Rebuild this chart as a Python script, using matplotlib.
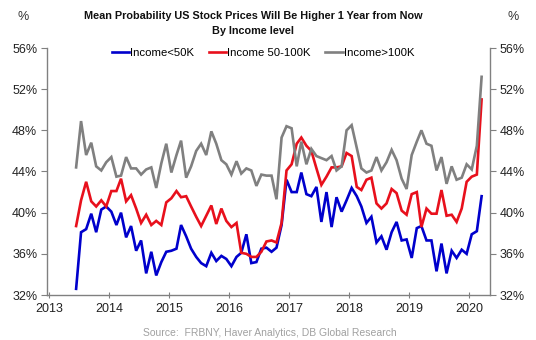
import matplotlib
matplotlib.use("Agg")
import matplotlib.pyplot as plt
import pandas as pd

plt.rcParams['font.family'] = ['Liberation Sans', 'DejaVu Sans']

start_month = "2013-06-01"
n_months = 82

income_lt50k = [32.6, 38.1, 38.4, 39.9, 38.1, 40.3, 40.6, 40.1, 38.8, 40.0,
                37.6, 38.7, 36.3, 37.3, 34.1, 36.2, 33.9, 35.2, 36.2, 36.3,
                36.5, 38.8, 37.7, 36.5, 35.7, 35.1, 34.8, 36.1, 35.3, 35.8,
                35.5, 34.8, 35.7, 36.1, 37.9, 35.1, 35.2, 36.5, 36.6, 36.2,
                36.6, 38.8, 43.2, 42.0, 42.0, 43.9, 41.8, 41.6, 42.5, 39.1,
                42.0, 38.6, 41.5, 40.1, 41.2, 42.4, 41.6, 40.6, 39.0, 39.6,
                37.1, 37.7, 36.4, 38.1, 39.1, 37.3, 37.4, 35.6, 38.5, 38.7,
                37.3, 37.3, 34.3, 37.0, 34.1, 36.3, 35.6, 36.4, 36.0, 37.9,
                38.2, 41.6]

income_50_100k = [38.7, 41.2, 43.0, 41.1, 40.6, 41.2, 40.6, 42.1, 42.1, 43.3,
                  41.1, 41.7, 40.4, 39.0, 39.8, 38.8, 39.2, 38.8, 41.0, 41.4,
                  42.1, 41.5, 41.6, 40.6, 39.6, 38.7, 39.7, 40.7, 38.9, 40.4,
                  39.2, 38.6, 39.0, 36.1, 36.0, 35.7, 35.7, 36.2, 37.2, 37.3,
                  37.1, 39.0, 44.1, 44.7, 46.7, 47.3, 46.5, 46.0, 44.3, 42.7,
                  43.5, 44.4, 44.4, 44.5, 45.8, 45.5, 42.5, 42.2, 43.2, 43.4,
                  40.9, 40.4, 40.9, 42.3, 41.9, 40.2, 39.8, 41.8, 42.0, 38.6,
                  40.4, 39.9, 39.9, 42.2, 39.7, 39.8, 39.1, 40.4, 43.0, 43.5,
                  43.7, 51.0]

income_gt100k = [44.4, 48.9, 45.6, 46.8, 44.5, 44.1, 44.9, 45.4, 43.5, 43.6,
                 45.4, 44.3, 44.3, 43.7, 44.2, 44.4, 42.4, 44.8, 46.7, 43.9,
                 45.6, 47.0, 43.4, 44.5, 46.0, 46.7, 45.6, 47.9, 46.7, 45.1,
                 44.7, 43.7, 45.0, 43.8, 44.3, 44.1, 42.6, 43.7, 43.6, 43.6,
                 41.3, 47.3, 48.4, 48.2, 44.5, 46.9, 44.7, 46.2, 45.5, 45.3,
                 45.1, 45.5, 44.1, 44.5, 48.0, 48.5, 46.3, 44.3, 43.9, 44.1,
                 45.4, 44.1, 44.9, 46.1, 45.1, 43.3, 42.3, 45.6, 46.9, 48.0,
                 46.7, 46.5, 44.1, 45.4, 42.8, 44.5, 43.2, 43.4, 44.7, 44.2,
                 46.5, 53.2]

series_labels = ["Income<50K", "Income 50-100K", "Income>100K"]
series_colors = ["#0000CC", "#E8101C", "#808080"]
year_ticks = list(range(2013, 2021))
y_ticks = [32, 36, 40, 44, 48, 52, 56]

dates = pd.date_range(start_month, periods=n_months, freq="MS") + pd.Timedelta(days=14)

fig = plt.figure(figsize=(5.36, 3.40), dpi=100)
ax = fig.add_axes([47/536, 1-295/340, (490-47)/536, (295-48)/340])

for vals, lab, col in zip([income_lt50k, income_50_100k, income_gt100k], series_labels, series_colors):
    ax.plot(dates, vals, color=col, lw=1.9, label=lab, solid_joinstyle='miter')

ax.set_xlim(pd.Timestamp("2012-12-20"), pd.Timestamp("2020-05-05"))
ax.set_ylim(32, 56)
ax.set_xticks([pd.Timestamp(f"{y}-01-01") for y in year_ticks])
ax.set_xticklabels([str(y) for y in year_ticks])
ax.set_yticks(y_ticks)
ax.set_yticklabels([f"{v}%" for v in y_ticks])

spine_col = "#808080"
for s in ["left", "right", "bottom"]:
    ax.spines[s].set_color(spine_col)
    ax.spines[s].set_linewidth(1.0)
ax.spines["top"].set_visible(False)

ax.tick_params(axis="y", which="both", left=True, right=True, labelleft=True, labelright=True,
               direction="out", length=4, color=spine_col, labelsize=9, labelcolor="#222222", pad=3)
ax.tick_params(axis="x", direction="inout", length=5, color=spine_col, labelsize=9,
               labelcolor="#222222", pad=3)

fig.text(17/536, 1-17/340, "%", fontsize=9, color="#333333", ha="left", va="center")
fig.text(507/536, 1-17/340, "%", fontsize=9, color="#333333", ha="left", va="center")

fig.text(253/536, 1-16/340, "Mean Probability US Stock Prices Will Be Higher 1 Year from Now",
         fontsize=7.8, fontweight="bold", ha="center", va="center", color="#111111")
fig.text(253/536, 1-31/340, "By Income level",
         fontsize=7.8, fontweight="bold", ha="center", va="center", color="#111111")

leg = ax.legend(loc="center", bbox_to_anchor=(263/536, 1-53/340), bbox_transform=fig.transFigure,
                ncol=3, frameon=False, fontsize=8.2, handlelength=1.5, handletextpad=0.1,
                columnspacing=1.3, borderaxespad=0)

fig.text(270/536, 1-333/340, "Source:  FRBNY, Haver Analytics, DB Global Research",
         fontsize=7.5, color="#A0A0A0", ha="center", va="center")

fig.savefig("out.png", dpi=100)
